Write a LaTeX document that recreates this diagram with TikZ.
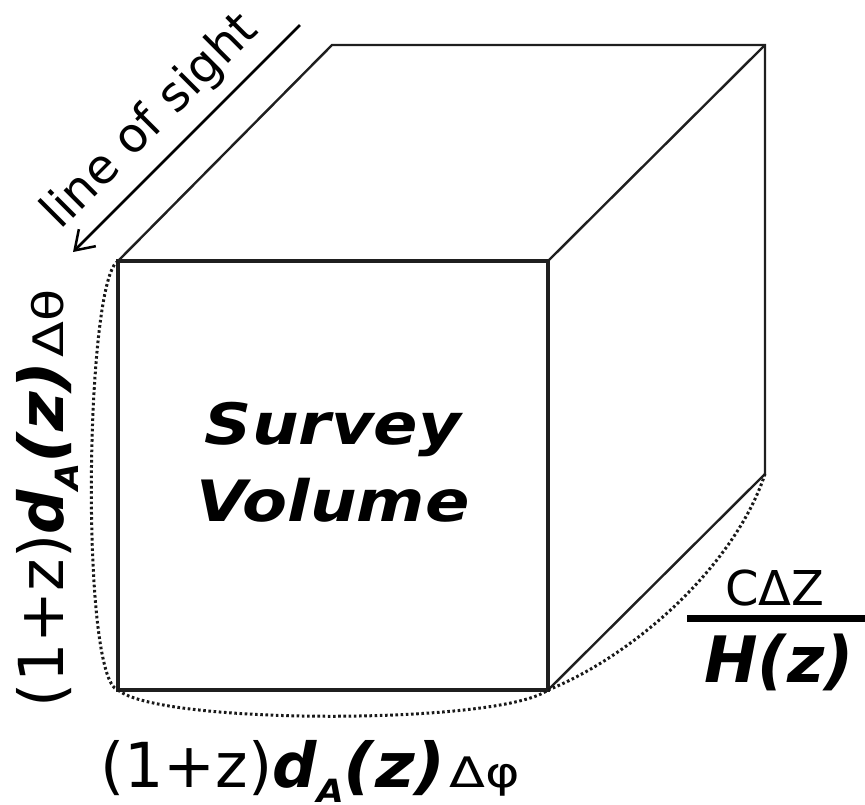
\documentclass[tikz,border=0pt]{standalone}
\usepackage{fontspec}
\setmainfont{DejaVu Sans}
\newfontfamily\wideface{DejaVu Sans}[FakeStretch=1.1]
\newfontfamily\svface{DejaVu Sans}[FakeStretch=1.15]
\newfontfamily\greekwide{DejaVu Sans}[FakeStretch=1.25]
\usetikzlibrary{arrows.meta}
\newcommand\comovlen[1]{{\fontsize{62}{70}\selectfont(1+z)}{\bfseries\itshape\fontsize{62}{70}\selectfont d\raisebox{-15pt}{\wideface\bfseries\itshape\fontsize{32}{32}\selectfont A}{\wideface\bfseries\itshape(z)}}\hspace{4pt}{\greekwide\fontsize{42}{42}\selectfont Δ#1}}
\begin{document}
\begin{tikzpicture}[x=1pt,y=-1pt,
  frontedge/.style={line width=3.5pt, line join=miter, draw=black!88},
  backedge/.style={line width=2.4pt, line join=miter, draw=black!88},
  dots/.style={line width=3pt, dash pattern=on 2.6pt off 2.6pt, draw=black!90},
  lbl/.style={inner sep=0pt, outer sep=0pt}]
\useasboundingbox (0,0) rectangle (865,804);
% cube corners
\coordinate (ftl) at (118,261);
\coordinate (ftr) at (548,261);
\coordinate (fbr) at (548,690);
\coordinate (fbl) at (118,690);
\coordinate (btl) at (332,45);
\coordinate (btr) at (765,45);
\coordinate (bbr) at (765,474);
% back / depth edges
\draw[backedge] (ftl) -- (btl) -- (btr) -- (bbr) -- (fbr);
\draw[backedge] (ftr) -- (btr);
% front face
\draw[frontedge] (ftl) rectangle (fbr);
% dotted arcs
\draw[dots] (ftl) .. controls (85,280) and (80,680) .. (fbl);
\draw[dots] (fbl) .. controls (160,725) and (500,725) .. (fbr);
\draw[dots] (fbr) .. controls (635,655) and (735,565) .. (bbr);
% line of sight
\coordinate (losA) at (300,25);
\coordinate (losB) at (73,252);
\draw[line width=2.5pt, -{Straight Barb[length=18pt,width=24pt]}] (losA) -- (losB);
\node[lbl, rotate=45, font=\fontsize{48}{58}\selectfont] (los) at (151,122) {line of sight};
% survey volume
\node[lbl, align=center, font=\svface\bfseries\itshape\fontsize{57}{77}\selectfont] (sv) at (333,462) {Survey\\Volume};
% side labels
\node[lbl, anchor=base west] (dphi) at (100,787) {\comovlen{φ}};
\node[lbl, rotate=90, anchor=base west] (dth) at (63,707) {\comovlen{θ}};
% fraction
\node[lbl, anchor=base, font=\fontsize{48}{50}\selectfont] (num) at (775,605) {CΔZ};
\node[lbl, anchor=base, font=\bfseries\itshape\fontsize{64}{70}\selectfont] (den) at (779,682) {H(z)};
\coordinate (barL) at (687,618);
\coordinate (barR) at (865,618);
\draw[line width=7pt] (barL) -- (barR);
\end{tikzpicture}
\end{document}
